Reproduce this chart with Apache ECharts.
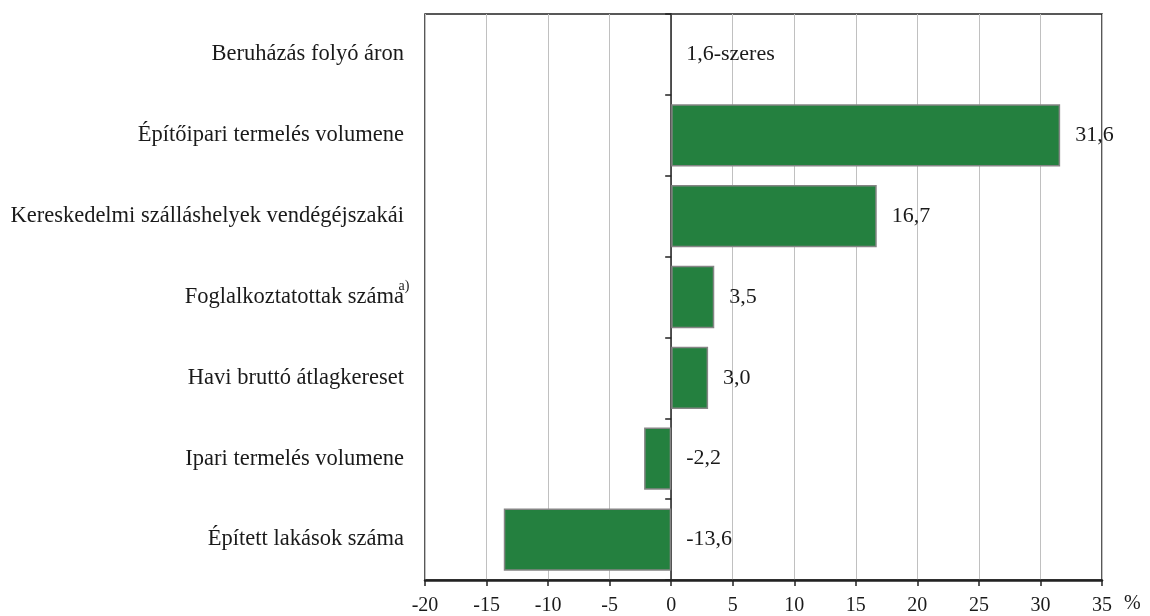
<!DOCTYPE html>
<html>
<head>
<meta charset="utf-8">
<script src="https://cdn.jsdelivr.net/npm/echarts@6/dist/echarts.min.js"></script>
<style>html,body{margin:0;padding:0;background:#fff}#c{width:1150px;height:616px}</style>
</head>
<body>
<div id="c"></div>
<script>
const categories = [
  "Beruházás folyó áron",
  "Építőipari termelés volumene",
  "Kereskedelmi szálláshelyek vendégéjszakái",
  "Foglalkoztatottak száma",
  "Havi bruttó átlagkereset",
  "Ipari termelés volumene",
  "Épített lakások száma"
];
const notes = ["", "", "", "a)", "", "", ""];
const values = [null, 31.6, 16.7, 3.5, 3.0, -2.2, -13.6];
const valueLabels = ["1,6-szeres", "31,6", "16,7", "3,5", "3,0", "-2,2", "-13,6"];
const xTicks = { min: -20, max: 35, interval: 5 };
const unitLabel = "%";

const FONT = "Liberation Serif";
const TXT = '#1a1a1a';
const chart = echarts.init(document.getElementById('c'), null, { renderer: 'canvas' });
chart.setOption({
  animation: false,
  backgroundColor: '#fff',
  grid: { left: 425, right: 48, top: 14, bottom: 35, show: true, borderColor: '#222', borderWidth: 1.5, containLabel: false },
  xAxis: {
    type: 'value', min: xTicks.min, max: xTicks.max, interval: xTicks.interval,
    name: unitLabel, nameLocation: 'end', nameGap: 22,
    nameTextStyle: { fontFamily: FONT, fontSize: 20, color: TXT, verticalAlign: 'top', padding: [14, 0, 0, 0] },
    axisLine: { show: true, onZero: false, lineStyle: { color: '#222', width: 2.5 } },
    axisTick: { show: true, length: 6, lineStyle: { color: '#222', width: 1.5 } },
    axisLabel: { fontFamily: FONT, fontSize: 20, color: TXT, margin: 16 },
    splitLine: { show: true, lineStyle: { color: '#c0c0c0', width: 1 } }
  },
  yAxis: [
    {
      type: 'category', data: categories, inverse: true, position: 'left',
      axisLine: { show: false, onZero: false }, axisTick: { show: false },
      splitLine: { show: false },
      axisLabel: {
        margin: 21, fontFamily: FONT, fontSize: 22.5, color: TXT,
        formatter: (v, i) => notes[i] ? `{m|${v}}{s|${notes[i]}}` : `{m|${v}}`,
        rich: {
          m: { fontFamily: FONT, fontSize: 22.5, color: TXT },
          s: { fontFamily: FONT, fontSize: 14, color: TXT, padding: [0, 0, 22, 0], width: 0, align: 'left' }
        }
      }
    },
    {
      type: 'category', data: categories, inverse: true, position: 'right',
      axisLine: { show: true, onZero: true, lineStyle: { color: '#222', width: 1.5 } },
      axisTick: { show: true, inside: true, length: 6, lineStyle: { color: '#222', width: 1.5 } },
      axisLabel: { show: false }, splitLine: { show: false }
    }
  ],
  series: [
    {
      type: 'bar', yAxisIndex: 0, data: values, barCategoryGap: '23%',
      itemStyle: { color: '#24803f', borderColor: '#858585', borderWidth: 1.5 },
      z: 2
    },
    {
      type: 'scatter', yAxisIndex: 0, symbolSize: 0, silent: true, z: 5,
      itemStyle: { opacity: 1 },
      data: values.map((v, i) => [Math.max(v == null ? 0 : v, 0), i]),
      label: {
        show: true, position: 'right', distance: 15,
        fontFamily: FONT, fontSize: 22, color: TXT,
        formatter: p => valueLabels[p.dataIndex]
      }
    }
  ]
});
</script>
</body>
</html>
